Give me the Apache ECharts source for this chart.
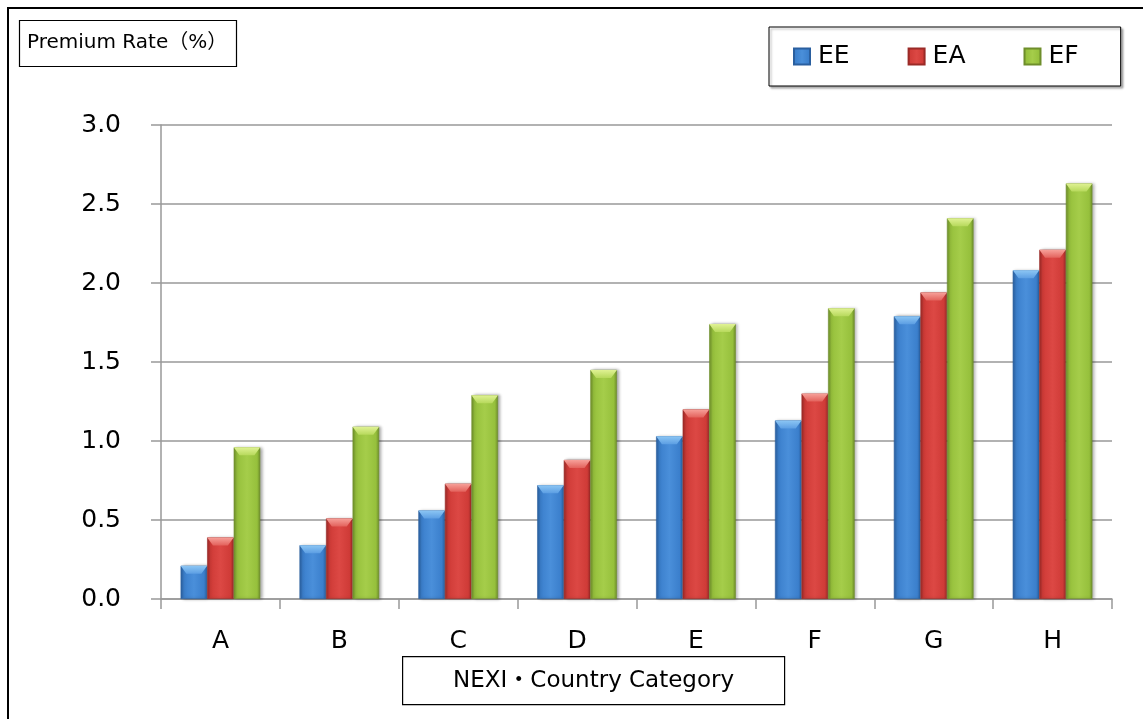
<!DOCTYPE html>
<html>
<head>
<meta charset="utf-8">
<script src="https://cdn.jsdelivr.net/npm/echarts@6/dist/echarts.min.js"></script>
<style>
  html, body { margin: 0; padding: 0; background: #fff; }
  #chart { width: 1143px; height: 719px; }
</style>
</head>
<body>
<div id="chart"></div>
<script>
// Premium rates by NEXI country category
const categories = ['A', 'B', 'C', 'D', 'E', 'F', 'G', 'H'];
const seriesNames = ['EE', 'EA', 'EF'];
const eeValues = [0.21, 0.34, 0.56, 0.72, 1.03, 1.13, 1.79, 2.08];
const eaValues = [0.39, 0.51, 0.73, 0.88, 1.20, 1.30, 1.94, 2.21];
const efValues = [0.96, 1.09, 1.29, 1.45, 1.74, 1.84, 2.41, 2.63];
const yTickLabels = ['0.0', '0.5', '1.0', '1.5', '2.0', '2.5', '3.0'];
const yAxisTitle = 'Premium Rate（%）';
const xAxisTitle = 'NEXI・Country Category';

const FONT = '"DejaVu Sans", "Noto Sans CJK JP", sans-serif';

// shaded palette per series: edge, body, highlight, bevel
const palette = [
  { edge: '#2a5f9f', body: '#3b7fcc', light: '#4a8fda', bevel: '#8cc6f4', bevelEdge: '#5c9ee3' },
  { edge: '#9a2a27', body: '#cf3b37', light: '#dc4844', bevel: '#f7a19a', bevelEdge: '#e3625c' },
  { edge: '#6e8e2b', body: '#96c03c', light: '#a5cd4a', bevel: '#e0f294', bevelEdge: '#b7d95c' }
];

function bodyGradient(p) {
  return new echarts.graphic.LinearGradient(0, 0, 1, 0, [
    { offset: 0, color: p.edge },
    { offset: 0.12, color: p.body },
    { offset: 0.5, color: p.light },
    { offset: 0.88, color: p.body },
    { offset: 1, color: p.edge }
  ]);
}
function bevelGradient(p) {
  return new echarts.graphic.LinearGradient(0, 0, 0, 1, [
    { offset: 0, color: p.bevel },
    { offset: 1, color: p.bevelEdge }
  ]);
}

const valueSets = [eeValues, eaValues, efValues];
const barSeries = valueSets.map((vals, i) => ({
  name: seriesNames[i],
  type: 'bar',
  data: vals,
  barGap: '0%',
  barCategoryGap: '33%',
  itemStyle: {
    color: bodyGradient(palette[i]),
    borderColor: palette[i].edge,
    borderWidth: 0.6,
    shadowColor: 'rgba(0,0,0,0.35)',
    shadowBlur: 3,
    shadowOffsetX: 2,
    shadowOffsetY: 0
  },
  z: 2
}));
// bevelled caps sitting on the top of each bar
const capSeries = valueSets.map((vals, i) => ({
  name: seriesNames[i] + ' cap',
  type: 'pictorialBar',
  data: vals,
  barGap: '0%',
  barCategoryGap: '33%',
  symbol: 'path://M0,0 L100,0 L78,30 L22,30 Z',
  symbolSize: ['100%', 8],
  symbolPosition: 'end',
  symbolOffset: [0, 0],
  itemStyle: { color: bevelGradient(palette[i]) },
  silent: true,
  z: 3
}));

const chart = echarts.init(document.getElementById('chart'), null, { renderer: 'canvas' });
chart.setOption({
  backgroundColor: '#fff',
  animation: false,
  color: palette.map(p => bodyGradient(p)),
  title: {
    text: yAxisTitle,
    left: 19,
    top: 20,
    padding: [13, 10, 14, 8],
    borderColor: '#000',
    borderWidth: 1.2,
    textStyle: { fontFamily: FONT, fontSize: 20, fontWeight: 'normal', color: '#000' }
  },
  legend: {
    data: seriesNames,
    left: 769,
    top: 27,
    padding: [17, 42, 17, 24],
    itemGap: 58,
    itemWidth: 16,
    itemHeight: 16,
    icon: 'rect',
    borderColor: '#000',
    borderWidth: 1,
    shadowColor: 'rgba(0,0,0,0.3)',
    shadowOffsetX: 2,
    shadowOffsetY: 2,
    shadowBlur: 2,
    backgroundColor: '#fff',
    textStyle: { fontFamily: FONT, fontSize: 25, color: '#000', padding: [0, 0, 0, 3] }
  },
  grid: { left: 161, top: 125, right: 31, bottom: 120, containLabel: false, outerBoundsMode: 'none' },
  xAxis: {
    type: 'category',
    data: categories,
    boundaryGap: true,
    axisLine: { show: true, lineStyle: { color: '#999', width: 1.5 } },
    axisTick: { show: true, inside: false, length: 10, alignWithLabel: false, lineStyle: { color: '#999', width: 1.5 } },
    axisLabel: { fontFamily: FONT, fontSize: 25, color: '#000', margin: 30 },
    splitLine: { show: false }
  },
  yAxis: {
    type: 'value',
    min: 0,
    max: 3,
    interval: 0.5,
    axisLine: { show: true, lineStyle: { color: '#999', width: 1.5 } },
    axisTick: { show: true, inside: false, length: 10, lineStyle: { color: '#999', width: 1.5 } },
    axisLabel: {
      fontFamily: FONT, fontSize: 25, color: '#000', margin: 40,
      formatter: (v, i) => yTickLabels[i]
    },
    splitLine: { show: true, lineStyle: { color: '#999', width: 1.5 } }
  },
  graphic: [
    {
      type: 'polyline',
      shape: { points: [[8, 719], [8, 8], [1143, 8]] },
      style: { stroke: '#000', lineWidth: 2, fill: null },
      silent: true,
      z: 10
    },
    {
      // category axis caption box
      type: 'group',
      left: 402,
      top: 656,
      children: [
        {
          type: 'rect',
          shape: { x: 0, y: 0, width: 382, height: 48 },
          style: { fill: '#fff', stroke: '#000', lineWidth: 1.2 }
        },
        {
          type: 'text',
          x: 191,
          y: 24,
          style: {
            text: xAxisTitle,
            font: '23px ' + FONT,
            fill: '#000',
            align: 'center',
            verticalAlign: 'middle'
          }
        }
      ]
    }
  ],
  series: barSeries.concat(capSeries)
});
</script>
</body>
</html>
